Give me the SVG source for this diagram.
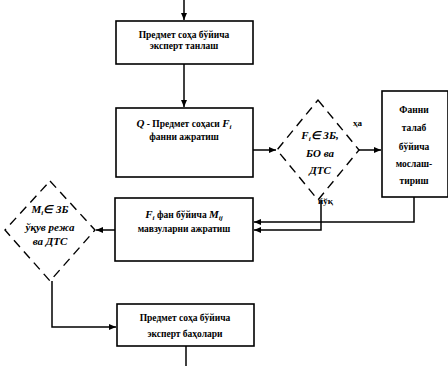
<svg xmlns="http://www.w3.org/2000/svg" width="448" height="366" viewBox="0 0 448 366">
<style>
.box{fill:#fff;stroke:#000;stroke-width:1.6}
.dia{fill:none;stroke:#000;stroke-width:1.4;stroke-dasharray:9 6}
.ln{fill:none;stroke:#000;stroke-width:1.5}
.t{font-family:"Liberation Serif",serif;font-weight:bold;font-size:9.5px;text-anchor:middle;fill:#000}
.ti{font-family:"Liberation Serif",serif;font-weight:bold;font-style:italic;font-size:11px;text-anchor:middle;fill:#000}
.lb{font-family:"Liberation Serif",serif;font-weight:bold;font-size:9px;fill:#000}
</style>
<defs>
<marker id="ar" markerWidth="8" markerHeight="8" refX="7" refY="4" orient="auto" markerUnits="userSpaceOnUse">
<path d="M0,1 L7,4 L0,7 Z" fill="#000"/>
</marker>
</defs>
<rect width="448" height="366" fill="#fff"/>
<g id="connectors">
<path class="ln" d="M184,0 V20" marker-end="url(#ar)"/>
<path class="ln" d="M184,64 V107" marker-end="url(#ar)"/>
<path class="ln" d="M253,150 H276" marker-end="url(#ar)"/>
<path class="ln" d="M359,150 H381" marker-end="url(#ar)"/>
<path class="ln" d="M414,197 V222 H254" marker-end="url(#ar)"/>
<path class="ln" d="M321,200 V230 H254" marker-end="url(#ar)"/>
<path class="ln" d="M115,230 H96" marker-end="url(#ar)"/>
<path class="ln" d="M52,281 V327 H116" marker-end="url(#ar)"/>
<path class="ln" d="M186,346 V366"/>
<text class="lb" x="353" y="126">ҳа</text>
<text class="lb" x="318" y="204">йўқ</text>
</g>
<g id="n1">
<rect class="box" x="116" y="21" width="137" height="43"/>
<text class="t" x="184" y="38">Предмет соҳа бўйича</text>
<text class="t" x="184" y="49">эксперт танлаш</text>
</g>
<g id="n2">
<rect class="box" x="116" y="108" width="137" height="69"/>
<text class="t" x="184" y="127"><tspan font-style="italic" font-size="11">Q</tspan> - Предмет соҳаси <tspan font-style="italic" font-size="11">F</tspan><tspan font-style="italic" font-size="7" dy="2">i</tspan></text>
<text class="t" x="184" y="140">фанни ажратиш</text>
</g>
<g id="n3">
<polygon class="dia" points="318,100 359,150 318,200 277,150"/>
<text class="ti" x="320" y="139">F<tspan font-size="7" dy="2">i</tspan><tspan dy="-2">∈ ЗБ,</tspan></text>
<text class="ti" x="320" y="157">БО ва</text>
<text class="ti" x="320" y="174">ДТС</text>
</g>
<g id="n4">
<rect class="box" x="382" y="91" width="66" height="106"/>
<text class="t" x="414" y="113">Фанни</text>
<text class="t" x="414" y="131">талаб</text>
<text class="t" x="414" y="150">бўйича</text>
<text class="t" x="414" y="167">мослаш-</text>
<text class="t" x="414" y="184">тириш</text>
</g>
<g id="n5">
<rect class="box" x="115" y="198" width="138" height="63"/>
<text class="t" x="184" y="218"><tspan font-style="italic" font-size="11">F</tspan><tspan font-style="italic" font-size="7" dy="2">i</tspan><tspan dy="-2"> фан бўйича </tspan><tspan font-style="italic" font-size="11">M</tspan><tspan font-style="italic" font-size="7" dy="2">ij</tspan></text>
<text class="t" x="184" y="232">мавзуларни ажратиш</text>
</g>
<g id="n6">
<polygon class="dia" points="50,181 95,230 50,281 5,230"/>
<text class="ti" x="50" y="213" font-size="10">M<tspan font-size="7" dy="2">i</tspan><tspan dy="-2">∈ ЗБ</tspan></text>
<text class="ti" x="50" y="231" font-size="9.5">ўқув режа</text>
<text class="ti" x="50" y="245" font-size="9.5">ва ДТС</text>
</g>
<g id="n7">
<rect class="box" x="117" y="304" width="137" height="42"/>
<text class="t" x="185" y="321">Предмет соҳа бўйича</text>
<text class="t" x="185" y="337">эксперт баҳолари</text>
</g>
</svg>
